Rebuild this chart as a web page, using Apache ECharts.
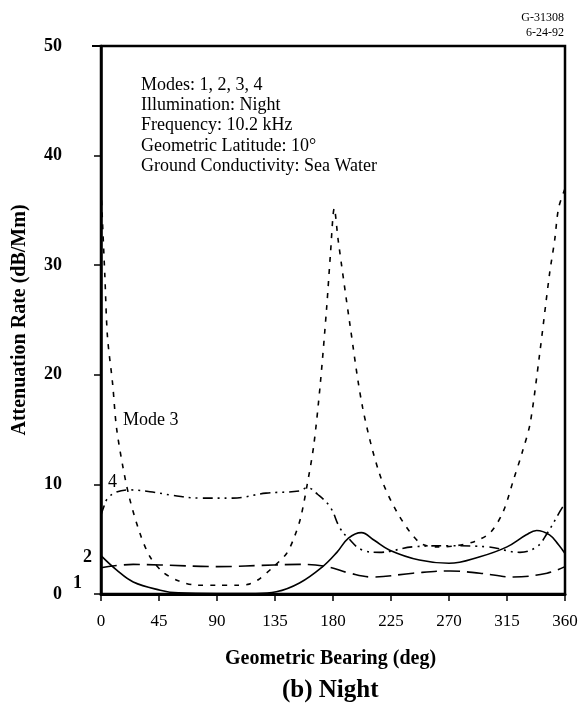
<!DOCTYPE html>
<html>
<head>
<meta charset="utf-8">
<script src="https://cdn.jsdelivr.net/npm/echarts@6/dist/echarts.min.js"></script>
<style>
html,body{margin:0;padding:0;background:#fff;}
#chart{width:582px;height:708px;}
</style>
</head>
<body>
<div id="chart"></div>
<script>
// Geometric bearing (deg) / attenuation rate (dB/Mm)
var xTicks = [0, 45, 90, 135, 180, 225, 270, 315, 360];
var yTicks = [0, 10, 20, 30, 40, 50];

var mode1X = [0, 12, 25, 46, 60, 90, 120, 136, 154, 172, 183, 192, 202, 212, 224, 247, 270, 294, 315, 330, 338, 348, 355, 360];
var mode1Y = [3.5, 2.2, 1.1, 0.35, 0.1, 0.05, 0.05, 0.2, 1.0, 2.5, 3.8, 5.1, 5.6, 4.9, 4.0, 3.1, 2.8, 3.4, 4.3, 5.4, 5.8, 5.4, 4.5, 3.7];

var mode2X = [0, 25, 46, 90, 134, 154, 175, 193, 211, 242, 271, 294, 320, 346, 360];
var mode2Y = [2.4, 2.7, 2.65, 2.5, 2.65, 2.7, 2.5, 1.9, 1.55, 1.9, 2.1, 1.9, 1.55, 1.9, 2.5];

var mode3X = [0, 3, 5, 9, 12, 17, 22, 30, 38, 48, 60, 75, 90, 105, 115, 122, 133, 144, 150, 155, 160, 165, 170, 175, 178, 181, 184, 193, 203, 216, 230, 247, 260, 275, 290, 302, 312, 320, 327, 333, 340, 348, 352, 355, 360];
var mode3Y = [37, 29, 23.5, 19.2, 15.2, 11.6, 8.8, 5.6, 3.4, 2.0, 1.2, 0.8, 0.8, 0.8, 0.9, 1.3, 2.4, 3.7, 5.2, 7, 10, 13.5, 19, 26, 31, 35.2, 32.3, 24.7, 17, 11, 7.4, 4.7, 4.3, 4.4, 4.8, 5.6, 7.5, 10.4, 13, 15.6, 21.6, 29.2, 32.3, 35.2, 37];

var mode4X = [0, 2, 5, 12, 22, 40, 56, 77, 102, 128, 154, 160, 168, 178, 185, 191, 203, 216, 242, 270, 300, 325, 338, 346, 358, 360];
var mode4Y = [7.2, 7.9, 8.7, 9.3, 9.5, 9.3, 9.0, 8.75, 8.75, 9.2, 9.4, 9.7, 9.1, 7.9, 6.1, 5.2, 4.0, 3.8, 4.3, 4.4, 4.3, 3.8, 4.3, 5.5, 7.9, 8.1];

var infoLines = [
  'Modes: 1, 2, 3, 4',
  'Illumination: Night',
  'Frequency: 10.2 kHz',
  'Geometric Latitude: 10\u00b0',
  'Ground Conductivity: Sea Water'
];

function pairs(xs, ys) { return xs.map(function (x, i) { return [x, ys[i]]; }); }

var FONT = '"Liberation Serif", "DejaVu Serif", serif';
var chart = echarts.init(document.getElementById('chart'), null, {renderer: 'canvas'});

function mkSeries(name, xs, ys, dash, smooth) {
  return {
    name: name, type: 'line', data: pairs(xs, ys), smooth: smooth,
    showSymbol: false, animation: false,
    lineStyle: {color: '#000', width: 1.6, type: dash}
  };
}

var graphics = [];
infoLines.forEach(function (t, i) {
  graphics.push({type: 'text', left: 141, top: 76 + i * 20.3,
    style: {text: t, font: '18px ' + FONT, fill: '#000'}});
});
graphics.push({type: 'text', left: 123, top: 411, style: {text: 'Mode 3', font: '18px ' + FONT, fill: '#000'}});
graphics.push({type: 'text', left: 108, top: 473, style: {text: '4', font: '18px ' + FONT, fill: '#000'}});
graphics.push({type: 'text', left: 83, top: 548, style: {text: '2', font: 'bold 18px ' + FONT, fill: '#000'}});
graphics.push({type: 'text', left: 73, top: 574, style: {text: '1', font: 'bold 18px ' + FONT, fill: '#000'}});
graphics.push({type: 'text', right: 18, top: 12, style: {text: 'G-31308', font: '12px ' + FONT, fill: '#000', align: 'right'}});
graphics.push({type: 'text', right: 18, top: 27, style: {text: '6-24-92', font: '12px ' + FONT, fill: '#000', align: 'right'}});
graphics.push({type: 'text', left: 225, top: 649, style: {text: 'Geometric Bearing (deg)', font: 'bold 20px ' + FONT, fill: '#000'}});
graphics.push({type: 'text', left: 282, top: 678, style: {text: '(b) Night', font: 'bold 25px ' + FONT, fill: '#000'}});
// top frame extension (left of axis) at 50
graphics.push({type: 'line', shape: {x1: 92, y1: 46, x2: 101, y2: 46}, style: {stroke: '#000', lineWidth: 2}});

chart.setOption({
  animation: false,
  backgroundColor: '#fff',
  grid: {left: 101, right: 17, top: 46, bottom: 114, show: true, borderColor: '#000', borderWidth: 2.5, backgroundColor: 'transparent'},
  xAxis: {
    type: 'value', min: 0, max: 360, interval: 45,
    axisLine: {show: true, onZero: false, lineStyle: {color: '#000', width: 3}},
    axisTick: {show: true, length: 7, inside: false, lineStyle: {color: '#000', width: 1.5}},
    splitLine: {show: false},
    axisLabel: {color: '#000', fontFamily: FONT, fontSize: 17, margin: 19,
      formatter: function (v) { return xTicks.indexOf(v) >= 0 ? String(v) : ''; }}
  },
  yAxis: {
    type: 'value', min: 0, max: 50, interval: 10,
    name: 'Attenuation Rate (dB/Mm)', nameLocation: 'middle', nameGap: 71,
    nameTextStyle: {color: '#000', fontFamily: FONT, fontSize: 20, fontWeight: 'bold'},
    axisLine: {show: true, lineStyle: {color: '#000', width: 2.5}},
    axisTick: {show: true, length: 7, inside: false, lineStyle: {color: '#000', width: 1.5}},
    splitLine: {show: false},
    axisLabel: {color: '#000', fontFamily: FONT, fontSize: 18, fontWeight: 'bold', margin: 39,
      formatter: function (v) { return yTicks.indexOf(v) >= 0 ? String(v) : ''; }}
  },
  series: [
    mkSeries('Mode 1', mode1X, mode1Y, 'solid', 0.4),
    mkSeries('Mode 2', mode2X, mode2Y, [16, 7], 0.4),
    mkSeries('Mode 3', mode3X, mode3Y, [5, 7], 0.3),
    mkSeries('Mode 4', mode4X, mode4Y, [10, 5, 2, 5, 2, 5], 0.4)
  ],
  graphic: graphics
});
</script>
</body>
</html>
